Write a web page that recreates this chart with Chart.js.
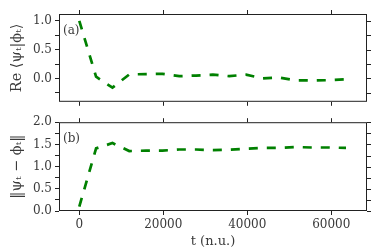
<!DOCTYPE html>
<html>
<head>
<meta charset="utf-8">
<script src="https://cdn.jsdelivr.net/npm/chart.js@4.4.0/dist/chart.umd.min.js"></script>
<style>
  html, body { margin: 0; padding: 0; background: #fff; }
  #wrap { position: relative; width: 374px; height: 249px; }
  #c-top { position: absolute; left: 0; top: 0; }
  #c-bot { position: absolute; left: 0; top: 112px; }
</style>
</head>
<body>
<div id="wrap">
  <canvas id="c-top" width="374" height="112"></canvas>
  <canvas id="c-bot" width="374" height="137"></canvas>
</div>
<script>
const times = [0, 4000, 7900, 11900, 15900, 19800, 23800, 27800, 31800, 35700, 39700, 43700, 47600, 51600, 55600, 59600, 63500];
const overlap = [1.0, 0.03, -0.16, 0.07, 0.075, 0.08, 0.04, 0.05, 0.065, 0.04, 0.065, 0.0, 0.015, -0.035, -0.035, -0.03, -0.015];
const distance = [0.1, 1.41, 1.53, 1.35, 1.36, 1.36, 1.385, 1.385, 1.37, 1.38, 1.40, 1.42, 1.42, 1.44, 1.43, 1.43, 1.42];
const xTicks = [0, 20000, 40000, 60000];

const FONT = "'DejaVu Serif', 'Liberation Serif', serif";
const INK = "#222";
const TXT = "#3a3a3a";
const GREEN = "#008000";

function pts(ys) {
  return times.map((t, i) => ({ x: t, y: ys[i] }));
}

// top/right spines and mirrored outward ticks, plus panel letter
function framePlugin(letter) {
  return {
    id: "frame",
    afterDraw(chart) {
      const { ctx, chartArea: a, scales } = chart;
      ctx.save();
      ctx.strokeStyle = INK;
      ctx.lineWidth = 1;
      ctx.strokeRect(a.left + 0.5, a.top + 0.5, a.right - a.left - 1, a.bottom - a.top - 1);
      ctx.beginPath();
      scales.x.ticks.forEach((t) => {
        const px = Math.round(scales.x.getPixelForValue(t.value)) + 0.5;
        ctx.moveTo(px, a.top);
        ctx.lineTo(px, a.top - 4);
      });
      scales.y.ticks.forEach((t) => {
        const py = Math.round(scales.y.getPixelForValue(t.value)) + 0.5;
        ctx.moveTo(a.right, py);
        ctx.lineTo(a.right + 4, py);
      });
      ctx.stroke();
      ctx.fillStyle = TXT;
      ctx.font = "12px " + FONT;
      ctx.textBaseline = "top";
      ctx.fillText(letter, a.left + 4, a.top + 11);
      ctx.restore();
    },
  };
}

function makeChart(id, ys, opts) {
  return new Chart(document.getElementById(id), {
    type: "line",
    data: {
      datasets: [
        {
          data: pts(ys),
          borderColor: GREEN,
          borderWidth: 2.7,
          borderDash: [9, 9],
          borderCapStyle: "butt",
          pointRadius: 0,
          tension: 0,
          fill: false,
        },
      ],
    },
    options: {
      responsive: false,
      animation: false,
      layout: { padding: { left: 0, right: 7, top: opts.padTop, bottom: 0 } },
      plugins: { legend: { display: false }, tooltip: { enabled: false } },
      scales: {
        x: {
          type: "linear",
          min: -4830,
          max: 68500,
          afterBuildTicks: (s) => { s.ticks = xTicks.map((v) => ({ value: v })); },
          afterFit: (s) => { s.height = opts.xHeight; },
          grid: { drawOnChartArea: false, drawTicks: true, tickLength: 4, color: INK },
          border: { display: false },
          ticks: {
            display: opts.xLabels,
            autoSkip: false,
            color: TXT,
            padding: 3,
            maxRotation: 0,
            font: { family: FONT, size: 12 },
            callback: (v) => String(v),
          },
          title: {
            display: opts.xLabels,
            text: "t (n.u.)",
            color: TXT,
            padding: { top: 2, bottom: 0 },
            font: { family: FONT, size: 13 },
          },
        },
        y: {
          min: opts.yMin,
          max: opts.yMax,
          afterBuildTicks: (s) => {
            const out = [];
            for (let v = Math.ceil(opts.yMin / 0.25) * 0.25; v <= opts.yMax + 1e-9; v += 0.25) {
              out.push({ value: Math.round(v * 100) / 100 });
            }
            s.ticks = out;
          },
          afterFit: (s) => { s.width = 59; },
          grid: { drawOnChartArea: false, drawTicks: true, tickLength: 4, color: INK },
          border: { display: false },
          ticks: {
            autoSkip: false,
            color: TXT,
            padding: 3,
            font: { family: FONT, size: 12 },
            callback: (v) => (Math.abs(v * 2 - Math.round(v * 2)) < 1e-6 ? v.toFixed(1) : ""),
          },
          title: {
            display: true,
            text: opts.yTitle,
            color: TXT,
            padding: { top: 9, bottom: 0 },
            font: { family: FONT, size: 14.5 },
          },
        },
      },
    },
    plugins: [framePlugin(opts.letter)],
  });
}

makeChart("c-top", overlap, {
  padTop: 14, xHeight: 4, xLabels: false,
  yMin: -0.405, yMax: 1.118,
  yTitle: "Re ⟨ψₜ|ϕₜ⟩", letter: "(a)",
});

makeChart("c-bot", distance, {
  padTop: 5, xHeight: 38, xLabels: true,
  yMin: 0, yMax: 2.0,
  yTitle: "‖ψₜ − ϕₜ‖", letter: "(b)",
});
</script>
</body>
</html>
